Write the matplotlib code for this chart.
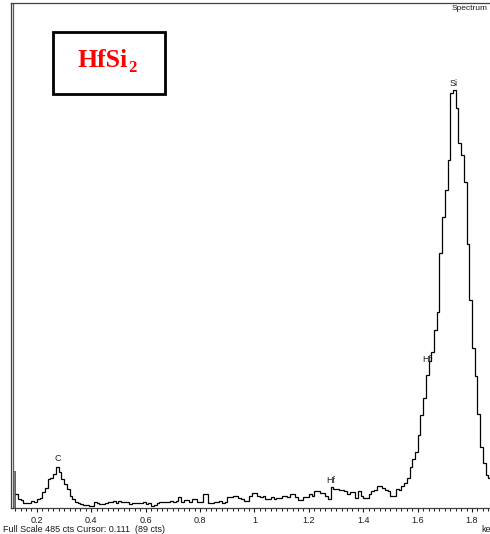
import numpy as np
import matplotlib
matplotlib.use("Agg")
import matplotlib.pyplot as plt
from matplotlib.ticker import MultipleLocator, FuncFormatter
from matplotlib.patches import Rectangle

# ==========================================================
# DATA (EDS spectrum, counts per 10 eV channel, from 0.11 keV)
# ==========================================================

start_kev = 0.11
channel_kev = 0.01
full_scale = 485

counts = [
    36, 13, 9, 8, 5, 5, 5, 7, 6, 9,          # 0.11 - 0.20
    10, 15, 19, 28, 29, 33, 39, 35, 28, 23,  # 0.21 - 0.30
    18, 12, 9, 6, 5, 4, 3, 3, 2, 2,          # 0.31 - 0.40
    6, 5, 4, 4, 5, 6, 6, 7, 5, 7,            # 0.41 - 0.50
    6, 6, 6, 4, 5, 5, 5, 5, 6, 4,            # 0.51 - 0.60
    5, 2, 3, 5, 6, 6, 6, 6, 7, 6,            # 0.61 - 0.70
    7, 11, 6, 8, 8, 6, 9, 9, 6, 6,           # 0.71 - 0.80
    13, 13, 5, 5, 6, 6, 7, 5, 6, 11,         # 0.81 - 0.90
    11, 12, 12, 10, 9, 7, 7, 12, 14, 14,     # 0.91 - 1.00
    12, 11, 12, 9, 9, 11, 9, 10, 10, 12,     # 1.01 - 1.10
    12, 11, 13, 13, 11, 8, 8, 11, 11, 13,    # 1.11 - 1.20
    12, 16, 16, 14, 14, 12, 9, 20, 18, 18,   # 1.21 - 1.30
    17, 17, 16, 13, 15, 15, 10, 16, 12, 10,  # 1.31 - 1.40
    10, 13, 16, 17, 21, 21, 19, 17, 16, 12,  # 1.41 - 1.50
    12, 18, 17, 21, 24, 29, 39, 47, 54, 70,  # 1.51 - 1.60
    89, 106, 128, 141, 150, 171, 188, 245, 279, 305,  # 1.61 - 1.70
    334, 399, 401, 384, 351, 339, 313, 254, 200, 154,  # 1.71 - 1.80
    127, 90, 59, 43, 32, 29,                 # 1.81 - 1.86
]

# peak labels: (text, energy keV, count level)
peak_names = ["Si", "C", "Hf", "Hf"]
peak_kev = [1.733, 0.275, 1.28, 1.650]
peak_cts = [403, 43, 22, 138]

tick_values = [0.2, 0.4, 0.6, 0.8, 1.0, 1.2, 1.4, 1.6, 1.8]
cursor_kev = 0.111
cursor_cts = 89

# ==========================================================
# FIGURE
# ==========================================================

plt.rcParams["font.family"] = ["Liberation Sans", "DejaVu Sans"]

W, H = 490, 534
fig = plt.figure(figsize=(W / 100, H / 100), dpi=100)
ax = fig.add_axes([11 / W, 1 - 508 / H, (493 - 11) / W, (508 - 3) / H])

counts = np.array(counts)
edges = start_kev + channel_kev * np.arange(len(counts) + 1)

# first channel drawn shaded
ax.bar(edges[0] + 0.003, counts[0], width=channel_kev * 0.7, align="edge",
       color="0.55", edgecolor="0.3", linewidth=0.6)
ax.stairs(counts[1:], edges[1:], color="black", linewidth=0.9, baseline=None)

ax.axvline(cursor_kev, color="0.35", linewidth=0.9)

ax.set_xlim(0.1048, 1.877)
ax.set_ylim(0, full_scale)

# ==========================================================
# AXES STYLE
# ==========================================================

ax.spines["right"].set_visible(False)
for s in ["left", "top", "bottom"]:
    ax.spines[s].set_color("0.25")
    ax.spines[s].set_linewidth(0.9)

ax.set_yticks([])
ax.set_xticks(tick_values)
ax.xaxis.set_major_formatter(FuncFormatter(lambda v, p: f"{v:g}"))
ax.xaxis.set_minor_locator(MultipleLocator(0.02))
ax.tick_params(axis="x", which="major", direction="out", length=3,
               width=0.8, labelsize=6.5, pad=2.5, colors="0.1")
ax.tick_params(axis="x", which="minor", direction="out", length=1.8,
               width=0.7, colors="0.1")

# ==========================================================
# LABELS
# ==========================================================

for name, e, c in zip(peak_names, peak_kev, peak_cts):
    ha = "right" if name == "Hf" and e > 1.5 else "center"
    ax.text(e, c, name, fontsize=6.5, ha=ha, va="bottom", color="0.1")

fig.text(488 / W, 1 - 9 / H, "Spectrum", fontsize=6, ha="right",
         va="center", color="0.1")
fig.text(3 / W, 1 - 529 / H,
         f"Full Scale {full_scale} cts Cursor: {cursor_kev:.3f}  ({cursor_cts} cts)",
         fontsize=6.5, ha="left", va="center", color="0.1")
fig.text(481 / W, 1 - 529 / H, "keV", fontsize=6.5, ha="left",
         va="center", color="0.1")

# title box
fig.patches.append(Rectangle((53 / W, 1 - 94 / H), (165 - 53) / W,
                             (94 - 32) / H, transform=fig.transFigure,
                             fill=False, edgecolor="black", linewidth=2))
fig.text(127.5 / W, 1 - 67 / H, "HfSi", fontsize=18.5, color="red",
         fontweight="bold", family="Liberation Serif",
         ha="right", va="baseline")
fig.text(128 / W, 1 - 72 / H, "2", fontsize=12, color="red",
         fontweight="bold", family="Liberation Serif",
         ha="left", va="baseline")

fig.savefig("out.png", dpi=100)
